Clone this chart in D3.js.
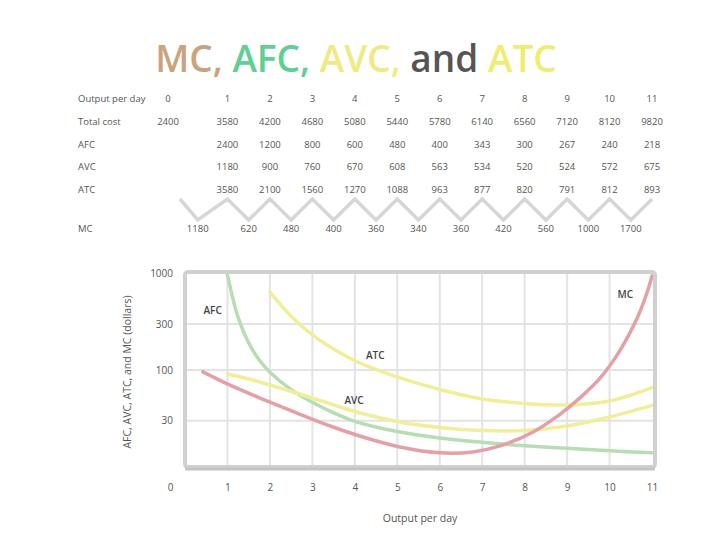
<!DOCTYPE html>
<html><head><meta charset="utf-8">
<script src="https://cdn.jsdelivr.net/npm/d3@7"></script>
<style>body{margin:0;background:#fff}svg{display:block}text{font-family:"Open Sans","Liberation Sans",sans-serif}</style>
</head><body><svg id="c" width="720" height="540"></svg>
<script>
// ---- data ----
const titleParts = [
  {t:"MC, ", c:"#c9a37e"}, {t:"AFC, ", c:"#5fcf93"}, {t:"AVC, ", c:"#eeea84"},
  {t:"and ", c:"#555555"}, {t:"ATC", c:"#efec73"}];
const output   = [0,1,2,3,4,5,6,7,8,9,10,11];
const totalCost = ["2400","3580","4200","4680","5080","5440","5780","6140","6560","7120","8120","9820"];
const afcRow   = ["", "2400","1200","800","600","480","400","343","300","267","240","218"];
const avcRow   = ["", "1180","900","760","670","608","563","534","520","524","572","675"];
const atcRow   = ["", "3580","2100","1560","1270","1088","963","877","820","791","812","893"];
const mcRow    = ["1180","620","480","400","360","340","360","420","560","1000","1700"];
const rowLabels = ["Output per day","Total cost","AFC","AVC","ATC","MC"];

const afcQ = [1,1.25,1.5,1.75,2,2.5,3,3.5,4,5,6,7,8,9,10,11];
const afcV = [960,350,191,127,95,63,46.6,36.2,29.6,23.2,19.9,18,16.6,15.6,14.7,14];
const atcQ = [2,2.5,3,3.5,4,5,6,7,8,9,10,11];
const atcV = [640,360,231,165,125,85,63,50.4,45.3,43.7,48,66];
const avcQ = [1,1.5,2,2.5,3,3.5,4,5,6,7,8,9,10,11];
const avcV = [91.2,81,70.3,60.2,51.6,43.7,37.4,29.5,25.6,23.8,23.8,26.5,32.8,43.2];
const mcQ  = [0.42,1.06,1.84,2.64,3.42,4.19,5.06,6.01,6.78,7.42,8.2,8.83,9.31,9.78,10.25,10.65,10.88,11];
const mcV  = [96,70,50,36,26.5,20.4,16.1,14,14.3,16.5,23,35,52,83,161,345,625,936];
const yTicks = [1000,300,100,30];
const xTicks = [0,1,2,3,4,5,6,7,8,9,10,11];
const curveLabels = [
  {t:"AFC", q:0.65, v:417}, {t:"ATC", q:4.48, v:143},
  {t:"AVC", q:3.98, v:49}, {t:"MC", q:10.37, v:597}];

// ---- layout ----
const svg = d3.select("#c");
const x = d3.scaleLinear().domain([0, 11.07]).range([185, 655]);
const y = d3.scaleLog().domain([10, 1030]).range([467, 272]);
const colX = k => k === 0 ? x(0) - 17 : x(k);

// title
const tt = svg.append("text").attr("x", 356).attr("y", 72).attr("text-anchor","middle")
  .style("font-size","37px").style("font-weight","600");
titleParts.forEach(p => tt.append("tspan").attr("fill", p.c).text(p.t));

// table
const rowY = [99, 122, 145, 167, 190, 229];
const tg = svg.append("g").style("font-size","9.5px").attr("fill","#555");
rowLabels.forEach((l,i) => tg.append("text").attr("x",78).attr("y",rowY[i]).attr("dy","0.35em").text(l));
const rows = [output.map(String), totalCost, afcRow, avcRow, atcRow];
rows.forEach((r,i) => r.forEach((s,k) => {
  if (s) tg.append("text").attr("x", colX(k)).attr("y", rowY[i]).attr("dy","0.35em")
    .attr("text-anchor","middle").text(s);
}));
// zigzag connectors and MC
const zz = [];
mcRow.forEach((s,k) => {
  const mx = (colX(k) + colX(k+1)) / 2;
  zz.push([k === 0 ? colX(0) + 12 : colX(k), 199]);
  zz.push([mx, 220]);
});
zz.push([colX(11), 199]);
svg.append("path").attr("d", d3.line()(zz)).attr("fill","none")
  .attr("stroke","#d6d6d6").attr("stroke-width",3.5);
mcRow.forEach((s,k) => {
  tg.append("text").attr("x", (colX(k)+colX(k+1))/2).attr("y", rowY[5]).attr("dy","0.35em")
    .attr("text-anchor","middle").text(s);
});

// grid
const g = svg.append("g");
g.selectAll(".vg").data(d3.range(1,11)).join("line")
  .attr("x1", d=>x(d)).attr("x2", d=>x(d)).attr("y1", 272).attr("y2", 467)
  .attr("stroke","#e3e3e3").attr("stroke-width",2);
g.selectAll(".hg").data(yTicks.slice(1)).join("line")
  .attr("x1", 185).attr("x2", 655).attr("y1", d=>y(d)).attr("y2", d=>y(d))
  .attr("stroke","#e3e3e3").attr("stroke-width",2);

// curves
svg.append("clipPath").attr("id","pc").append("rect")
  .attr("x",185).attr("y",272).attr("width",470).attr("height",195);
const line = d3.line().x(d=>x(d[0])).y(d=>y(d[1])).curve(d3.curveCatmullRom.alpha(0.5));
const curves = [
  {q:afcQ, v:afcV, c:"#b8dcb3"},
  {q:avcQ, v:avcV, c:"#f0ee9a"},
  {q:atcQ, v:atcV, c:"#f0ee98"},
  {q:mcQ,  v:mcV,  c:"#e4a0a6"}];
const cg = svg.append("g").attr("clip-path","url(#pc)");
curves.forEach(c => cg.append("path").attr("d", line(c.q.map((q,i)=>[q,c.v[i]])))
  .attr("fill","none").attr("stroke", c.c).attr("stroke-width",3.5).attr("stroke-linecap","round"));

// frame
svg.append("rect").attr("x",185).attr("y",272).attr("width",470).attr("height",195)
  .attr("rx",3).attr("fill","none").attr("stroke","#d0d0d0").attr("stroke-width",4);
svg.append("line").attr("x1",185).attr("x2",655).attr("y1",469).attr("y2",469)
  .attr("stroke","#c4c4c4").attr("stroke-width",3);

// curve labels
curveLabels.forEach(l => svg.append("text").attr("x", x(l.q)).attr("y", y(l.v)).attr("dy","0.35em")
  .attr("text-anchor","middle").style("font-size","10px").style("font-weight","600")
  .attr("fill","#444").text(l.t));

// axes
const ya = svg.append("g").attr("transform","translate(185,0)")
  .call(d3.axisLeft(y).tickValues(yTicks).tickFormat(d3.format("d")).tickSize(0).tickPadding(12));
ya.select(".domain").remove();
ya.selectAll("text").style("font-size","10px").attr("fill","#555").style("font-family",'"Open Sans",sans-serif');
const xa = svg.append("g").attr("transform","translate(0,469)")
  .call(d3.axisBottom(x).tickValues(xTicks).tickSize(0).tickPadding(15));
xa.select(".domain").remove();
xa.selectAll("text").style("font-size","10px").attr("fill","#555").style("font-family",'"Open Sans",sans-serif')
  .attr("dx", d => d === 0 ? -15 : 0);

svg.append("text").attr("x",420).attr("y",518).attr("dy","0.35em").attr("text-anchor","middle")
  .style("font-size","10.5px").attr("fill","#555").text("Output per day");
svg.append("text").attr("transform","translate(127,372) rotate(-90)").attr("dy","0.35em")
  .attr("text-anchor","middle").style("font-size","10.5px").attr("fill","#555")
  .text("AFC, AVC, ATC, and MC (dollars)");
</script></body></html>
